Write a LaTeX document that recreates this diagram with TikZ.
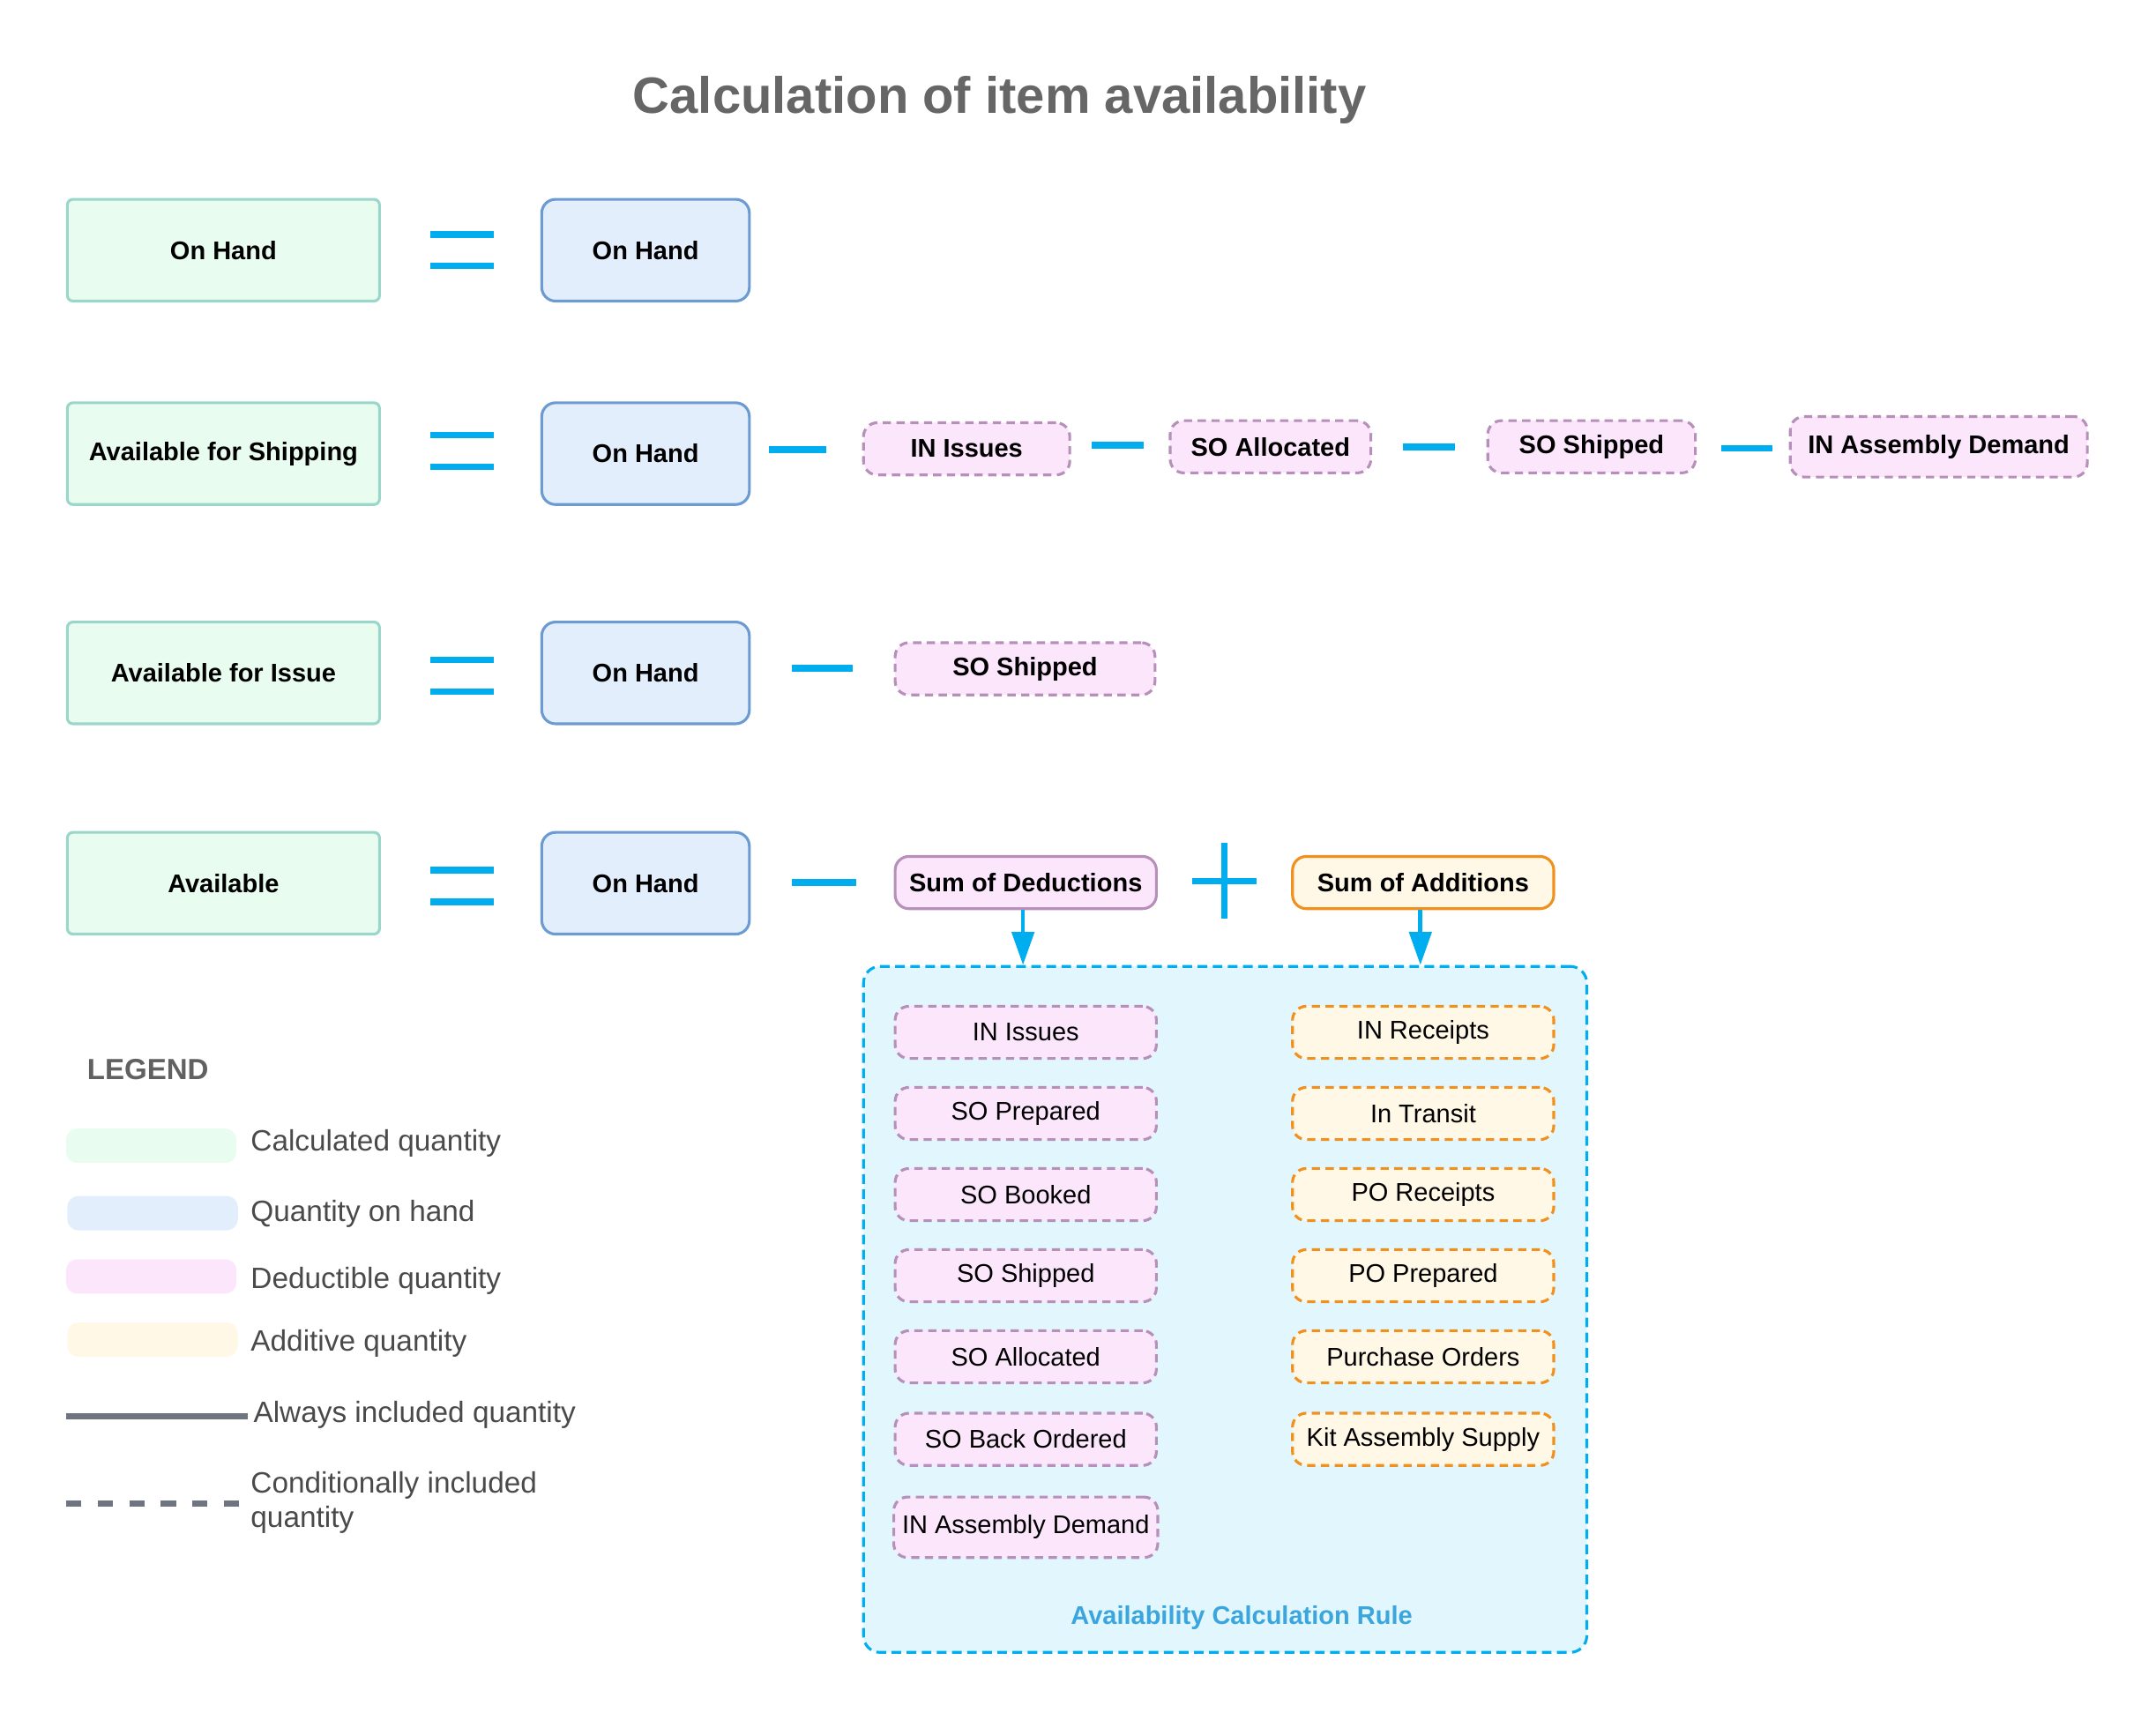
\documentclass[tikz,border=0pt]{standalone}
\usepackage{fontspec}
\setmainfont{Liberation Sans}
\usetikzlibrary{arrows.meta}
\definecolor{calcfill}{HTML}{E8FDF0}
\definecolor{calcdraw}{HTML}{9AD6C9}
\definecolor{handfill}{HTML}{E3EEFD}
\definecolor{handdraw}{HTML}{6C9BD2}
\definecolor{dedfill}{HTML}{FCE6FC}
\definecolor{deddraw}{HTML}{B690B9}
\definecolor{addfill}{HTML}{FFF8E7}
\definecolor{adddraw}{HTML}{F0901F}
\definecolor{opblue}{HTML}{00AEEF}
\definecolor{rulefill}{HTML}{E1F6FD}
\definecolor{ruletext}{HTML}{3AA6DD}
\definecolor{legendgray}{HTML}{4A4A4A}
\definecolor{linegray}{HTML}{6E7480}
\begin{document}
\begin{tikzpicture}[x=0.5pt,y=-0.5pt,
    calcbox/.style={rectangle,rounded corners=2pt,draw=calcdraw,fill=calcfill,line width=1pt,minimum width=113.5pt,minimum height=37pt,font=\fontsize{9.3}{11}\selectfont\bfseries},
    handbox/.style={rectangle,rounded corners=5pt,draw=handdraw,fill=handfill,line width=1pt,minimum width=75.5pt,minimum height=37pt,font=\fontsize{9.3}{11}\selectfont\bfseries},
    dedbox/.style={rectangle,rounded corners=5pt,draw=deddraw,fill=dedfill,line width=1pt,dash pattern=on 3pt off 2pt,minimum width=#1,minimum height=19pt,inner sep=1pt,font=\fontsize{9.3}{11}\selectfont},
    dedbox/.default=95pt,
    addbox/.style={dedbox=95pt,draw=adddraw,fill=addfill},
    opline/.style={draw=opblue,line width=2.4pt},
    rulearrow/.style={draw=opblue,line width=1.5pt,-{Triangle[length=12pt,width=8pt]}},
    swatch/.style={rectangle,rounded corners=4pt,minimum width=62pt,minimum height=12.5pt,inner sep=0pt},
    legendtext/.style={anchor=west,inner sep=0pt,text=legendgray,font=\fontsize{10.7}{12.5}\selectfont,align=left}]
\useasboundingbox (0,0) rectangle (1568,1251);
\node[text=black!60,font=\fontsize{18.6}{22}\selectfont\bfseries] (title) at (727,73) {Calculation of item availability};
% left hand sides
\node[calcbox] (calc1) at (162.5,182) {On Hand};
\node[calcbox] (calc2) at (162.5,330) {Available for Shipping};
\node[calcbox] (calc3) at (162.5,489.5) {Available for Issue};
\node[calcbox] (calc4) at (162.5,642.5) {Available};
\node[handbox] (hand1) at (469.5,182) {On Hand};
\node[handbox] (hand2) at (469.5,330) {On Hand};
\node[handbox] (hand3) at (469.5,489.5) {On Hand};
\node[handbox] (hand4) at (469.5,642.5) {On Hand};
% equals signs
\foreach \y in {182,328,491.5,644.5}
  \draw[opline] (313,\y-11.5) -- (359,\y-11.5) (313,\y+11.5) -- (359,\y+11.5);
% available for shipping
\node[dedbox=75pt,font=\fontsize{9.3}{11}\selectfont\bfseries] (issues2) at (703,326.5) {IN Issues};
\node[dedbox=73pt,font=\fontsize{9.3}{11}\selectfont\bfseries] (alloc2) at (924,325) {SO Allocated};
\node[dedbox=75.5pt,font=\fontsize{9.3}{11}\selectfont\bfseries] (ship2) at (1157.5,325) {SO Shipped};
\node[dedbox=108pt,minimum height=22pt,font=\fontsize{9.3}{11}\selectfont\bfseries] (asm2) at (1410,325) {IN Assembly Demand};
\draw[opline] (559,327) -- (601,327);
\draw[opline] (794,324) -- (832,324);
\draw[opline] (1020,325) -- (1058,325);
\draw[opline] (1252,326) -- (1289,326);
% available for issue
\node[dedbox=94.5pt,font=\fontsize{9.3}{11}\selectfont\bfseries] (ship3) at (745.5,486.5) {SO Shipped};
\draw[opline] (576,486) -- (620,486);
% available
\node[dedbox,solid,minimum height=19pt,font=\fontsize{9.3}{11}\selectfont\bfseries] (sumded) at (746,642) {Sum of Deductions};
\node[addbox,solid,font=\fontsize{9.3}{11}\selectfont\bfseries] (sumadd) at (1035,642) {Sum of Additions};
\draw[opline] (576,642) -- (623,642);
\draw[opline] (867,641) -- (914,641) (890.5,613) -- (890.5,668);
% calculation rule
\node[rectangle,rounded corners=6pt,draw=opblue,fill=rulefill,line width=1pt,dash pattern=on 3.5pt off 2pt,minimum width=263pt,minimum height=249.5pt] (rule) at (891,952.5) {};
\node[text=ruletext,font=\fontsize{9.3}{11}\selectfont\bfseries] (rulename) at (903,1177) {Availability Calculation Rule};
\draw[rulearrow] ([xshift=-1pt]sumded.south) -- ([xshift=-1pt]sumded.south |- rule.north);
\draw[rulearrow] ([xshift=-1pt]sumadd.south) -- ([xshift=-1pt]sumadd.south |- rule.north);
\node[dedbox] (ded1) at (746,751) {IN Issues};
\node[dedbox] (ded2) at (746,810) {SO Prepared};
\node[dedbox] (ded3) at (746,869) {SO Booked};
\node[dedbox] (ded4) at (746,928) {SO Shipped};
\node[dedbox] (ded5) at (746,987) {SO Allocated};
\node[dedbox] (ded6) at (746,1047) {SO Back Ordered};
\node[dedbox=96pt,minimum height=22pt] (ded7) at (746,1111) {IN Assembly Demand};
\node[addbox] (add1) at (1035,751) {IN Receipts};
\node[addbox] (add2) at (1035,810) {In Transit};
\node[addbox] (add3) at (1035,869) {PO Receipts};
\node[addbox] (add4) at (1035,928) {PO Prepared};
\node[addbox] (add5) at (1035,987) {Purchase Orders};
\node[addbox] (add6) at (1035,1047) {Kit Assembly Supply};
% legend
\node[anchor=west,inner sep=0pt,text=black!62,font=\fontsize{10.6}{13}\selectfont\bfseries] (legend) at (63,778) {LEGEND};
\node[swatch,fill=calcfill] (swcalc) at (110,833.5) {};
\node[swatch,fill=handfill] (swhand) at (111,882.5) {};
\node[swatch,fill=dedfill] (swded) at (110,928.5) {};
\node[swatch,fill=addfill] (swadd) at (111,974.5) {};
\node[legendtext] (lgcalc) at (182,832) {Calculated quantity};
\node[legendtext] (lghand) at (182,883) {Quantity on hand};
\node[legendtext] (lgded) at (182,932) {Deductible quantity};
\node[legendtext] (lgadd) at (182,977) {Additive quantity};
\node[legendtext] (lgsolid) at (184,1029) {Always included quantity};
\node[legendtext] (lgdash) at (182,1093) {Conditionally included\\quantity};
\draw[draw=linegray,line width=2.2pt] (48,1030) -- (180,1030);
\draw[draw=linegray,line width=2.2pt,dash pattern=on 5.5pt off 6pt] (48,1094) -- (176,1094);
\end{tikzpicture}
\end{document}
